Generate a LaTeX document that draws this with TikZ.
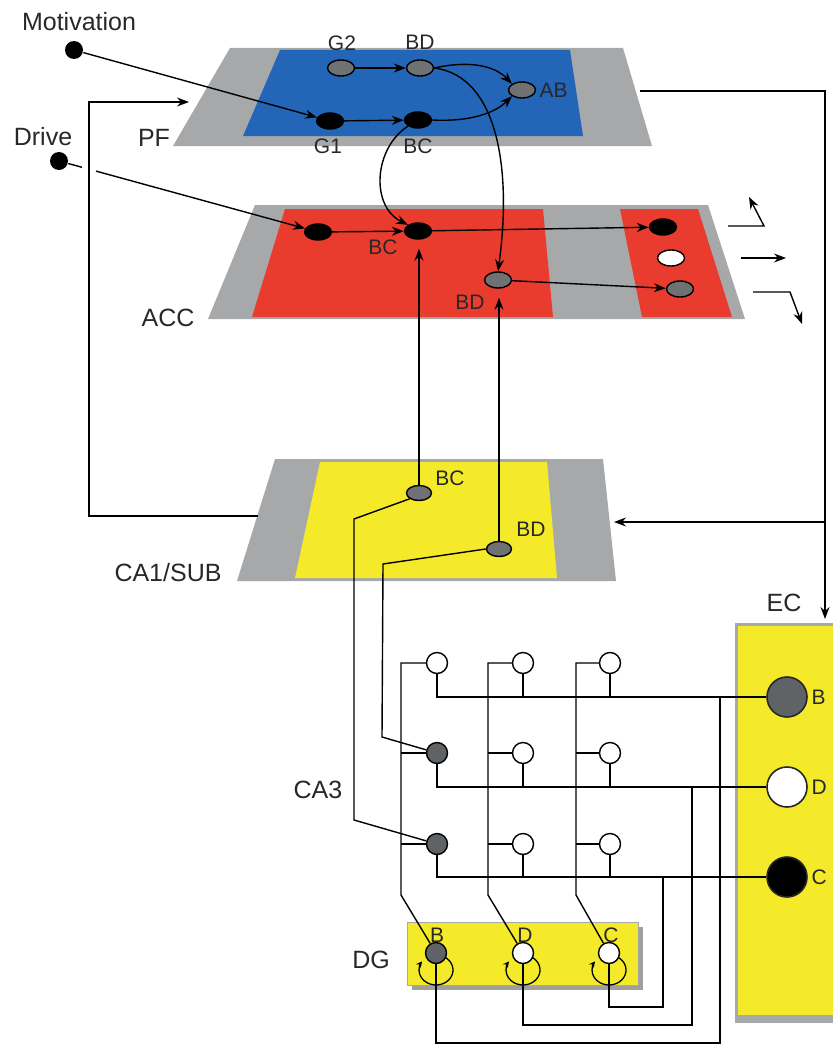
\documentclass[tikz,border=0pt]{standalone}
\usepackage{fontspec}
\setmainfont{Liberation Sans}
\usetikzlibrary{shapes.geometric,arrows.meta,calc}
\definecolor{lgray}{RGB}{166,168,170}
\definecolor{pfblue}{RGB}{35,102,184}
\definecolor{accred}{RGB}{233,60,46}
\definecolor{hyell}{RGB}{244,234,42}
\definecolor{ngray}{RGB}{112,113,115}
\definecolor{dgray}{RGB}{95,99,102}
\definecolor{txt}{RGB}{40,40,40}
\begin{document}
\begin{tikzpicture}[x=1pt,y=-1pt,line width=1.4pt,
  tip/.style={-{Stealth[length=12pt,width=9pt,inset=4pt]}},
  looptip/.style={-{Stealth[length=6pt,width=6pt,inset=2pt]},line width=1.3pt},
  cell/.style={ellipse,draw=black,line width=1.4pt,minimum width=27pt,minimum height=16pt,inner sep=0pt},
  big/.style={text=txt,font=\fontsize{25}{28}\selectfont,inner sep=0pt},
  small/.style={text=txt,font=\fontsize{21}{24}\selectfont,inner sep=0pt},
  dot/.style={circle,fill=black,minimum size=18pt,inner sep=0pt},
  neuron/.style={circle,draw=black,line width=1.4pt,minimum size=21pt,inner sep=0pt},
  ecneuron/.style={circle,draw=black!85,line width=1.6pt,minimum size=40pt,inner sep=0pt}]
\useasboundingbox (0,0) rectangle (832,1046);

% ---------- layers ----------
\fill[lgray] (230,48) -- (623,48) -- (652,146) -- (173,146) -- cycle;
\fill[pfblue] (280,50) -- (570,50) -- (583,136) -- (243,136) -- cycle;
\fill[lgray] (255,205) -- (708,205) -- (745,319) -- (208,319) -- cycle;
\fill[accred] (285,209) -- (543,209) -- (553,317) -- (252,317) -- cycle;
\fill[accred] (620,209) -- (698,209) -- (732,317) -- (642,317) -- cycle;
\fill[lgray] (275,459) -- (603,459) -- (616,581) -- (237,581) -- cycle;
\fill[hyell] (320,462) -- (547,462) -- (557,578) -- (295,578) -- cycle;
% EC box
\fill[lgray] (735,623) rectangle (900,1023);
\fill[hyell] (738,626) rectangle (900,1015);
% DG box
\fill[gray!75] (412,927) rectangle (643,990);
\fill[hyell,draw=lgray,line width=0.8pt] (407,922) rectangle (638,985);

% ---------- labels ----------
\node[big] at (79,22) {Motivation};
\node[big] at (43,137) {Drive};
\node[big] at (154,138) {PF};
\node[big] at (168,318) {ACC};
\node[big] at (168,573) {CA1/SUB};
\node[big] at (318,790) {CA3};
\node[big] at (371,960) {DG};
\node[big] at (784,603) {EC};

% ---------- input dots ----------
\node[dot] (mot) at (74,50) {};
\node[dot] (drv) at (59,161) {};

% ---------- PF ----------
\node[cell,fill=ngray] (g2) at (341,68) {};
\node[cell,fill=ngray] (pbd) at (420,68) {};
\node[cell,fill=ngray] (ab) at (522,90) {};
\node[cell,fill=black] (g1) at (330,121) {};
\node[cell,fill=black] (pbc) at (418,120) {};
\node[small] at (342,43) {G2};
\node[small] at (420,42) {BD};
\node[small,anchor=west] at (539,90) {AB};
\node[small] at (328,146) {G1};
\node[small] at (418,146) {BC};

% ---------- ACC ----------
\node[cell,fill=black] (a1) at (318,232) {};
\node[cell,fill=black] (abc) at (418,231) {};
\node[cell,fill=ngray] (abd) at (498,280) {};
\node[cell,fill=black] (ar1) at (663,227) {};
\node[cell,fill=white] (ar2) at (671,258) {};
\node[cell,fill=ngray] (ar3) at (680,289) {};
\node[small] at (383,247) {BC};
\node[small] at (470,302) {BD};

% ---------- CA1 ----------
\node[cell,fill=ngray,minimum width=25pt,minimum height=15pt] (cbc) at (419,493) {};
\node[cell,fill=ngray,minimum width=25pt,minimum height=15pt] (cbd) at (499,549) {};
\node[small] at (450,478) {BC};
\node[small] at (531,529) {BD};

% ---------- EC ----------
\node[ecneuron,fill=dgray] (ecB) at (787,697) {};
\node[ecneuron,fill=white] (ecD) at (787,787) {};
\node[ecneuron,fill=black] (ecC) at (787,877) {};
\node[small,anchor=west] at (811,697) {B};
\node[small,anchor=west] at (811,787) {D};
\node[small,anchor=west] at (811,877) {C};

% ---------- DG loops and nodes ----------
\foreach \xx in {436,523,609}{
  \draw[looptip] (\xx+8.5,957) arc[start angle=-60,end angle=215,x radius=17,y radius=15];
}
\node[neuron,fill=dgray] (dgB) at (436,953) {};
\node[neuron,fill=white] (dgD) at (523,953) {};
\node[neuron,fill=white] (dgC) at (609,953) {};
\node[small] at (437,935) {B};
\node[small] at (525,935) {D};
\node[small] at (611,935) {C};

% ---------- CA3 ----------
\node[neuron,fill=white] (c11) at (437,663) {};
\node[neuron,fill=white] (c12) at (523,663) {};
\node[neuron,fill=white] (c13) at (610,663) {};
\node[neuron,fill=dgray] (c21) at (437,753) {};
\node[neuron,fill=white] (c22) at (523,753) {};
\node[neuron,fill=white] (c23) at (610,753) {};
\node[neuron,fill=dgray] (c31) at (437,844) {};
\node[neuron,fill=white] (c32) at (523,844) {};
\node[neuron,fill=white] (c33) at (610,844) {};

% ---------- coordinates ----------
\coordinate (dg1) at (82,167.3);
\coordinate (dg2) at (96,171.1);
\coordinate (pfR) at (640,91);
\coordinate (ecIn) at (825,619);
\coordinate (jn) at (825,522);
\coordinate (ca1R) at (614,522);
\coordinate (ca1L) at (258,516);
\coordinate (fb) at (89,102);
\coordinate (pfL) at (189,102);
\coordinate (o1a) at (728,226); \coordinate (o1b) at (764,226); \coordinate (o1c) at (749,197);
\coordinate (o2a) at (741,258); \coordinate (o2b) at (786,258);
\coordinate (o3a) at (753,292); \coordinate (o3b) at (790,292); \coordinate (o3c) at (802,324);
\coordinate (q1) at (354,519); \coordinate (q2) at (354,820);
\coordinate (r1) at (383,564); \coordinate (r2) at (382,737);
\coordinate (k1) at (401,895); \coordinate (k2) at (488,895); \coordinate (k3) at (576,895);
\coordinate (t1) at (720,1043); \coordinate (t2) at (692,1025); \coordinate (t3) at (663,1007);

% ---------- PF connectors ----------
\draw[tip] (mot) -- (g1);
\draw[tip] (g2) -- (pbd);
\draw[tip] (g1) -- (pbc);
\draw[tip] (pbd.east) .. controls (470,60) and (495,66) .. (ab.north west);
\draw[tip] (pbc.east) .. controls (470,122) and (495,113) .. (ab.south west);
\draw[tip] (pbc.south west) .. controls (374,148) and (370,206) .. (abc.north west);
\draw[tip] (pbd.east) .. controls (498,76) and (512,170) .. (abd.north);

% ---------- ACC connectors ----------
\draw (drv) -- (dg1);
\draw[tip] (dg2) -- (a1);
\draw[tip] (a1) -- (abc);
\draw[tip] (abc) -- (ar1);
\draw[tip] (abd) -- (ar3);
\draw[tip] (o1a) -- (o1b) -- (o1c);
\draw[tip] (o2a) -- (o2b);
\draw[tip] (o3a) -- (o3b) -- (o3c);

% ---------- CA1 to ACC ----------
\draw[tip,shorten >=9pt] (cbc.north) -- (cbc.north |- abc.south);
\draw[tip,shorten >=9pt] (cbd.north) -- (cbd.north |- abd.south);

% ---------- feedback loops ----------
\draw[tip] (pfR) -| (ecIn);
\draw[tip] (jn) -- (ca1R);
\draw[tip] (ca1L) -| (fb) -- (pfL);

% ---------- CA1 to CA3 ----------
\draw (cbc.south west) -- (q1) -- (q2) -- (c31);
\draw (cbd.west) -- (r1) -- (r2) -- (c21);

% ---------- CA3 columns (mossy fibres) ----------
\draw (c11.west) -| (k1) -- (dgB);
\draw (c21.west) -- (c21.west -| k1);
\draw (c31.west) -- (c31.west -| k1);
\draw (c12.west) -| (k2) -- (dgD);
\draw (c22.west) -- (c22.west -| k2);
\draw (c32.west) -- (c32.west -| k2);
\draw (c13.west) -| (k3) -- (dgC);
\draw (c23.west) -- (c23.west -| k3);
\draw (c33.west) -- (c33.west -| k3);

% ---------- CA3 rows to EC ----------
\draw (c11.south) |- (ecB);
\draw (c12.south) -- (c12.south |- ecB);
\draw (c13.south) -- (c13.south |- ecB);
\draw (c21.south) |- (ecD);
\draw (c22.south) -- (c22.south |- ecD);
\draw (c23.south) -- (c23.south |- ecD);
\draw (c31.south) |- (ecC);
\draw (c32.south) -- (c32.south |- ecC);
\draw (c33.south) -- (c33.south |- ecC);

% ---------- EC to DG ----------
\draw (dgB.south) |- (t1) -- (t1 |- ecB);
\draw (dgD.south) |- (t2) -- (t2 |- ecD);
\draw (dgC.south) |- (t3) -- (t3 |- ecC);
\end{tikzpicture}
\end{document}
